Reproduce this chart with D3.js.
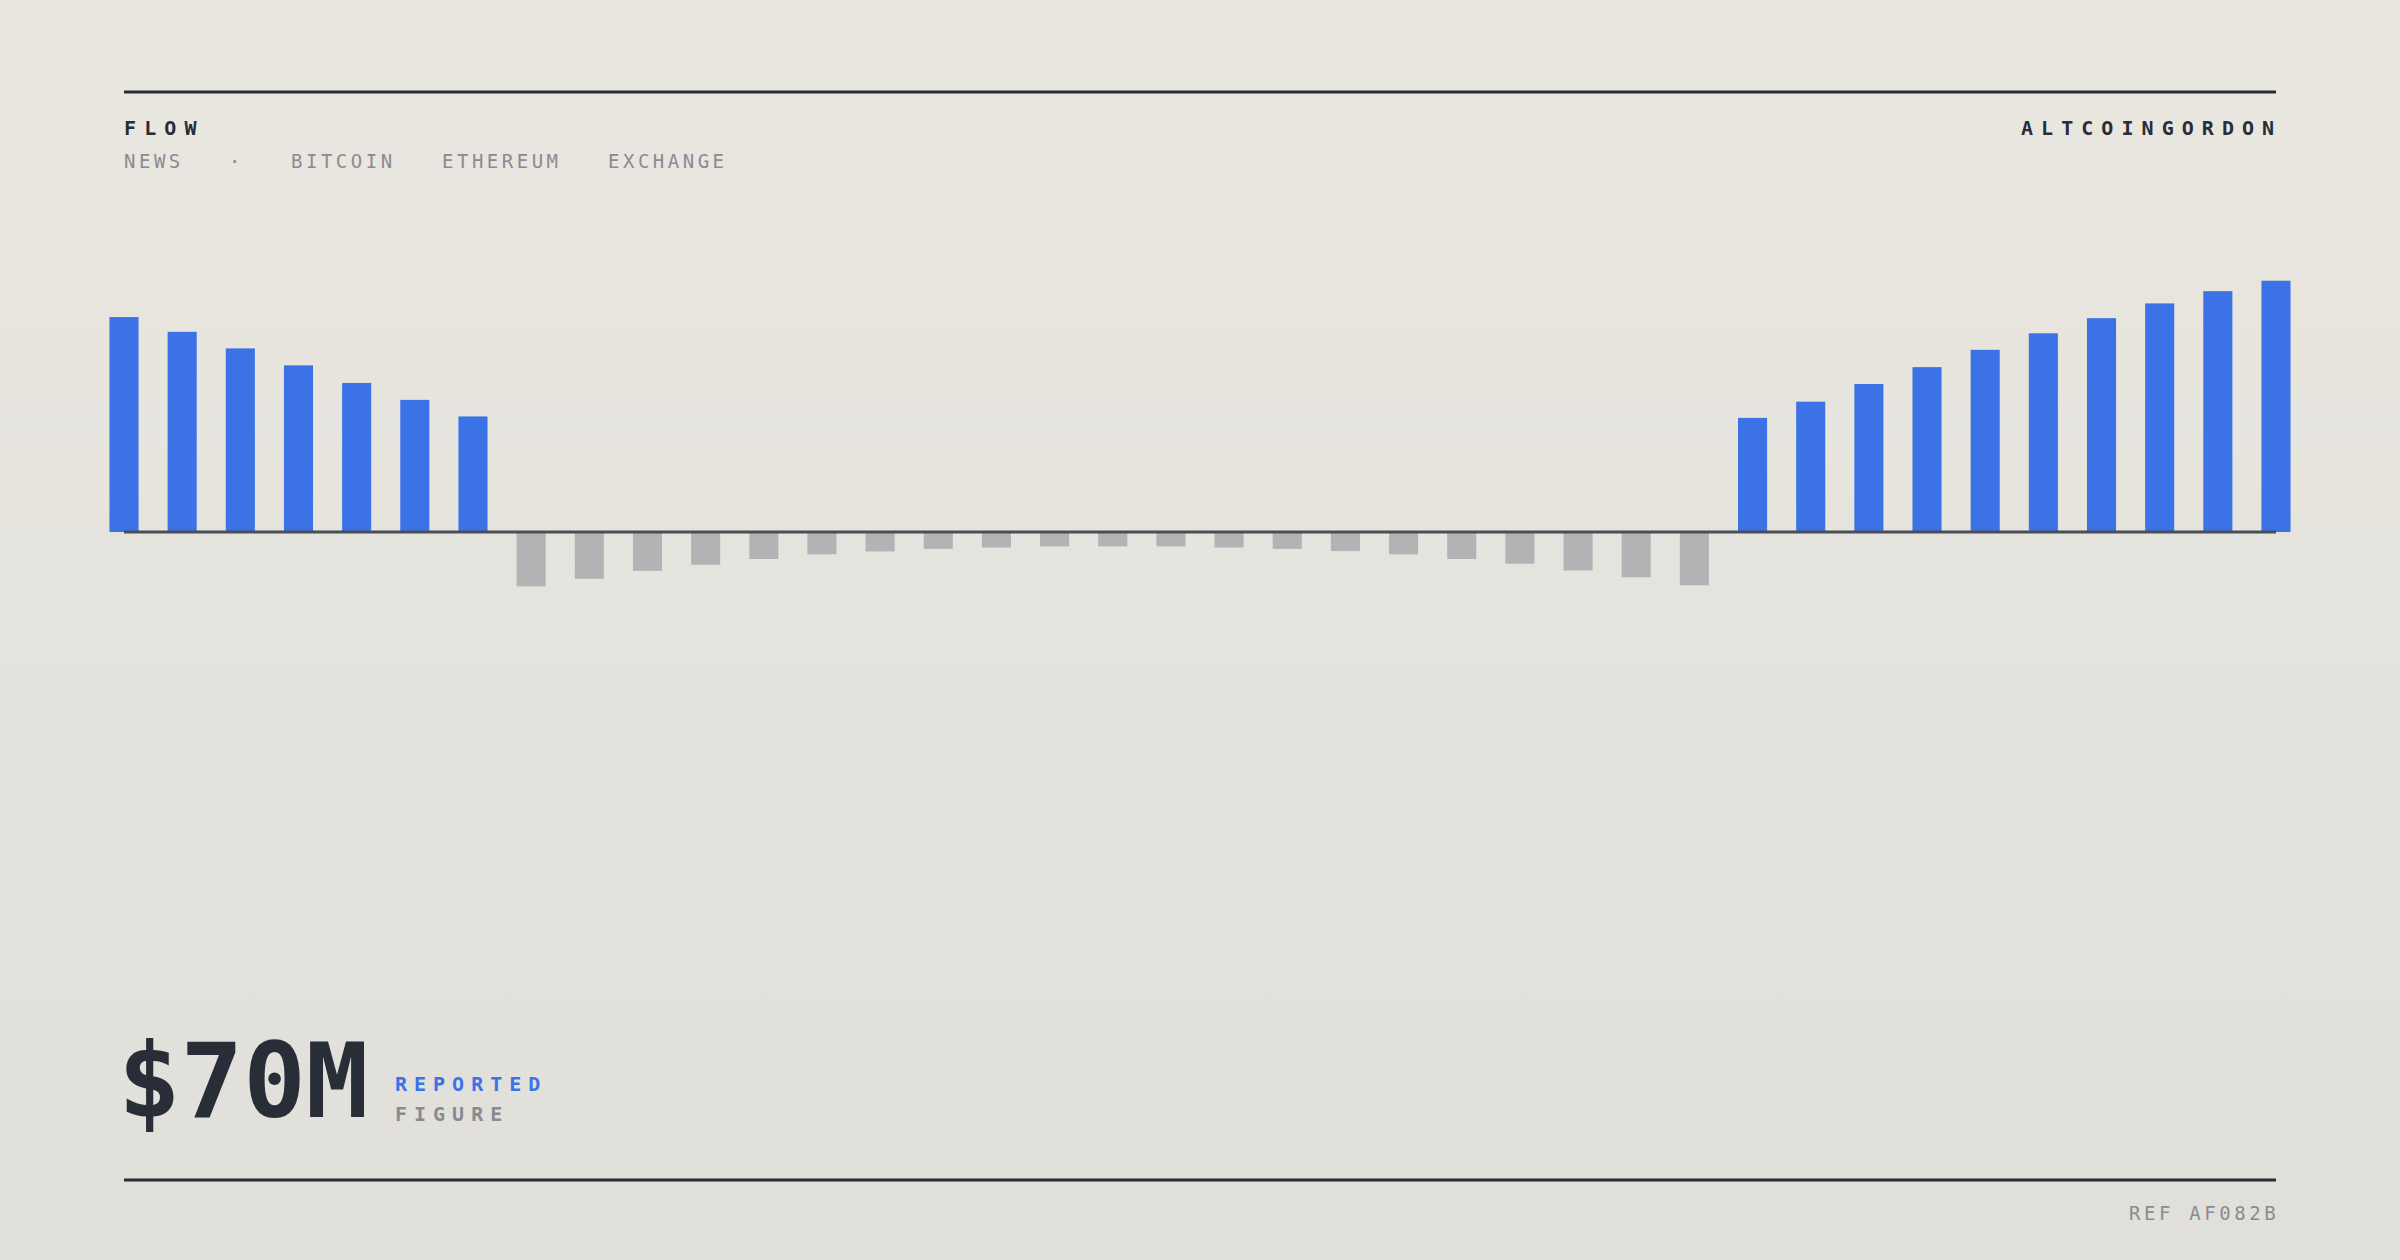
<!DOCTYPE html>
<html>
<head>
<meta charset="utf-8">
<script src="https://cdn.jsdelivr.net/npm/d3@7"></script>
<style>
  html, body { margin: 0; padding: 0; }
  body { width: 2400px; height: 1260px; overflow: hidden; }
  svg { display: block; }
  text { font-family: "DejaVu Sans Mono", "Liberation Mono", monospace; }
</style>
</head>
<body>
<svg id="chart" width="2400" height="1260"></svg>
<script>
// ---- data ----
const categories = d3.range(1, 39).map(i => "P" + String(i).padStart(2, "0"));
const inflowLeft = [59.7, 55.6, 51.0, 46.3, 41.4, 36.7, 32.1];
const outflowMid = [-15.1, -13.0, -10.8, -9.1, -7.5, -6.2, -5.4, -4.7, -4.3, -4.0, -4.0,
                    -4.0, -4.3, -4.7, -5.3, -6.2, -7.5, -8.8, -10.7, -12.6, -14.8];
const inflowRight = [31.7, 36.2, 41.1, 45.8, 50.6, 55.2, 59.4, 63.5, 66.9, 69.8];
const values = inflowLeft.concat(outflowMid, inflowRight);
const tags = ["NEWS", "·", "BITCOIN", "ETHEREUM", "EXCHANGE"];
const headline = "$70M";
const headlineLabels = ["REPORTED", "FIGURE"];
const titleText = "FLOW";
const brandText = "ALTCOINGORDON";
const refText = "REF AF082B";

// ---- drawing ----
const svg = d3.select("#chart");
const defs = svg.append("defs");
const grad = defs.append("linearGradient").attr("id", "bg").attr("x1", 0).attr("y1", 0).attr("x2", 0).attr("y2", 1);
grad.append("stop").attr("offset", "0%").attr("stop-color", "#eae7e0");
grad.append("stop").attr("offset", "100%").attr("stop-color", "#e0dfda");
svg.append("rect").attr("width", 2400).attr("height", 1260).attr("fill", "url(#bg)");

const left = 124, right = 2276;
const ink = "#292d37", muted = "#8a8b91", blue = "#3b73e6", grey = "#b3b3b5";

// rules
svg.append("line").attr("x1", left).attr("x2", right).attr("y1", 92).attr("y2", 92)
  .attr("stroke", ink).attr("stroke-width", 3);
svg.append("line").attr("x1", left).attr("x2", right).attr("y1", 1180).attr("y2", 1180)
  .attr("stroke", ink).attr("stroke-width", 3);

// header
svg.append("text").attr("x", 124).attr("y", 135).text(titleText)
  .attr("font-size", 20).attr("font-weight", 700).attr("letter-spacing", 8.1).attr("fill", ink);
svg.append("text").attr("x", 2021).attr("y", 135).text(brandText)
  .attr("font-size", 20).attr("font-weight", 700).attr("letter-spacing", 8.05).attr("fill", ink);
const tagX = [124, 229, 291, 442, 608];
svg.selectAll("text.tag").data(tags).join("text").attr("class", "tag")
  .attr("x", (d, i) => tagX[i]).attr("y", 167.5).text(d => d)
  .attr("font-size", 19).attr("letter-spacing", 3.5).attr("fill", muted);

// chart
const x = d3.scaleBand().domain(categories)
  .range([left - 58.16 / 2, right + 58.16 / 2]).paddingInner(0.5).paddingOuter(0.25);
const y = d3.scaleLinear().domain([0, 70]).range([532, 280]);

svg.append("g").selectAll("rect").data(values).join("rect")
  .attr("x", (d, i) => x(categories[i]))
  .attr("width", x.bandwidth())
  .attr("y", d => d >= 0 ? y(d) : y(0))
  .attr("height", d => Math.abs(y(d) - y(0)))
  .attr("fill", d => d >= 0 ? blue : grey);

svg.append("line").attr("x1", left).attr("x2", right).attr("y1", y(0)).attr("y2", y(0))
  .attr("stroke", "#4b4e57").attr("stroke-width", 3);

// headline
svg.append("text").attr("x", 118).attr("y", 1117).text(headline)
  .attr("font-size", 104).attr("font-weight", 700).attr("fill", ink);
svg.append("text").attr("x", 395).attr("y", 1091).text(headlineLabels[0])
  .attr("font-size", 20).attr("font-weight", 700).attr("letter-spacing", 7.0).attr("fill", blue);
svg.append("text").attr("x", 395).attr("y", 1121).text(headlineLabels[1])
  .attr("font-size", 20).attr("font-weight", 700).attr("letter-spacing", 7.0).attr("fill", muted);

// footer
svg.append("text").attr("x", 2129).attr("y", 1220).text(refText)
  .attr("font-size", 19).attr("letter-spacing", 3.6).attr("fill", muted);
</script>
</body>
</html>
